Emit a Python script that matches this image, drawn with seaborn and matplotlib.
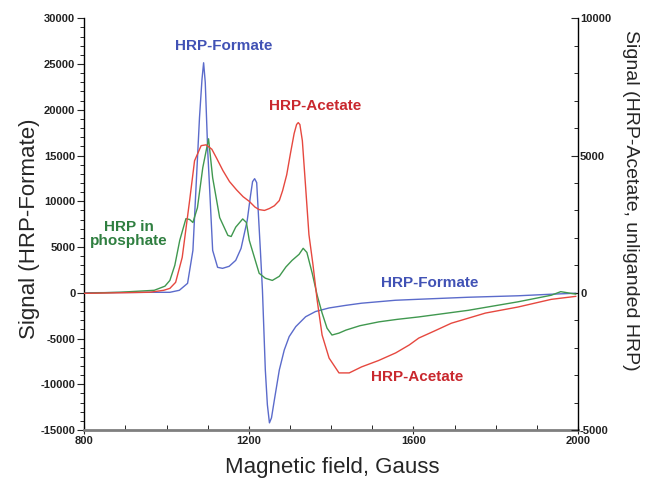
import matplotlib
matplotlib.use("Agg")
import matplotlib.pyplot as plt
from matplotlib.ticker import MultipleLocator
import seaborn as sns

# ---- data ----
field_formate = [800, 960, 1008, 1031, 1051, 1064, 1072, 1080, 1086, 1090, 1094, 1100, 1104, 1112, 1124,
                 1136, 1152, 1168, 1181, 1196, 1204, 1209, 1214, 1219, 1224, 1228, 1233, 1240, 1245, 1250,
                 1255, 1262, 1274, 1286, 1298, 1314, 1338, 1362, 1395, 1435, 1474, 1556, 1613, 1733,
                 1854, 1934, 1995]
signal_formate = [0, 50, 50, 270, 1030, 4630, 11930, 19150, 23300, 25140, 23000, 15500, 11930, 4630, 2780,
                  2670, 2890, 3540, 4850, 7900, 10620, 12150, 12470, 12040, 7900, 4630, 270, -8440, -12250, -14220,
                  -13670, -11710, -8440, -6260, -4790, -3700, -2620, -2050, -1660, -1380, -1140, -820, -710, -490,
                  -330, -160, -50]

field_acetate = [800, 887, 960, 993, 1008, 1022, 1038, 1056, 1068, 1084, 1096, 1110, 1121, 1137, 1153,
                 1170, 1186, 1201, 1215, 1225, 1238, 1250, 1262, 1274, 1282, 1292, 1301, 1310, 1316, 1320,
                 1324, 1330, 1338, 1346, 1356, 1366, 1378, 1395, 1419, 1444, 1474, 1515, 1557, 1590, 1613,
                 1650, 1692, 1775, 1854, 1935, 1995]
signal_acetate = [-20, 0, 20, 90, 160, 380, 1290, 3360, 4810, 5360, 5390, 5230, 4920, 4450, 4050,
                  3750, 3500, 3330, 3120, 3030, 3000, 3070, 3170, 3360, 3720, 4300, 5070, 5800, 6130, 6200,
                  6130, 5540, 3840, 2120, 1000, -270, -1540, -2380, -2920, -2920, -2700, -2470, -2190, -1900, -1650,
                  -1400, -1110, -740, -520, -240, -130]

field_phosphate = [800, 887, 970, 996, 1008, 1020, 1032, 1047, 1056, 1064, 1075, 1088, 1102, 1112, 1129,
                   1149, 1157, 1168, 1185, 1194, 1201, 1225, 1240, 1257, 1274, 1290, 1305, 1322, 1332, 1341,
                   1354, 1366, 1378, 1390, 1402, 1419, 1436, 1470, 1516, 1560, 1613, 1733, 1854, 1935, 1958,
                   1995]
signal_phosphate = [-20, 20, 90, 240, 450, 1000, 1910, 2700, 2670, 2560, 3100, 4560, 5610, 4190, 2740,
                    2090, 2050, 2390, 2690, 2560, 1910, 710, 530, 450, 600, 940, 1180, 1400, 1620, 1470,
                    710, -90, -740, -1290, -1540, -1470, -1360, -1200, -1060, -970, -880, -640, -330, -90, 40,
                    -50]

x_ticks = [800, 1200, 1600, 2000]
left_ticks = [-15000, -10000, -5000, 0, 5000, 10000, 15000, 20000, 25000, 30000]
right_ticks = [-5000, 0, 5000, 10000]

# ---- style ----
sns.set_style("white")
plt.rcParams["font.family"] = ["Liberation Sans", "DejaVu Sans"]
plt.rcParams["axes.unicode_minus"] = False

BLUE, RED, GREEN = "#5b6bcb", "#e6483f", "#40984f"
BLUE_T, RED_T, GREEN_T = "#4152b5", "#c9282e", "#2f7f40"

fig = plt.figure(figsize=(6.45, 4.79), dpi=100)
L, R, B, T = 84.3, 578.0, 430.0, 18.3
ax = fig.add_axes([L / 645, 1 - B / 479, (R - L) / 645, (B - T) / 479])
ax2 = ax.twinx()

sns.lineplot(x=field_formate, y=signal_formate, ax=ax, color=BLUE, linewidth=1.0)
sns.lineplot(x=field_phosphate, y=signal_phosphate, ax=ax2, color=GREEN, linewidth=1.0)
sns.lineplot(x=field_acetate, y=signal_acetate, ax=ax2, color=RED, linewidth=1.0)

ax.set_xlim(800, 2000)
ax.set_ylim(-15000, 30000)
ax2.set_ylim(-5000, 10000)

tick_kw = dict(fontsize=8, fontweight="bold", color="#222222")
ax.set_xticks(x_ticks, labels=[str(v) for v in x_ticks], **tick_kw)
ax.set_yticks(left_ticks, labels=[str(v) for v in left_ticks], **tick_kw)
ax2.set_yticks(right_ticks, labels=[str(v) for v in right_ticks], **tick_kw)
ax.xaxis.set_minor_locator(MultipleLocator(100))
ax.yaxis.set_minor_locator(MultipleLocator(1000))
ax2.yaxis.set_minor_locator(MultipleLocator(1000))

ax.tick_params(axis="y", which="major", direction="out", length=5, width=0.8, pad=1.5, left=True)
ax.tick_params(axis="y", which="minor", direction="out", length=3, width=0.7, left=True)
ax.tick_params(axis="x", which="major", direction="inout", length=6, width=0.8, pad=1.5, bottom=True)
ax.tick_params(axis="x", which="minor", direction="in", length=3.5, width=0.7, bottom=True)
ax2.tick_params(axis="y", which="major", direction="in", length=5, width=0.8, pad=1.5, right=True)
ax2.tick_params(axis="y", which="minor", direction="in", length=3, width=0.7, right=True)

ax.set_xlabel("")
ax.set_ylabel("")
ax2.set_ylabel("")

for a in (ax, ax2):
    a.spines["top"].set_visible(False)
ax.spines["right"].set_visible(False)
ax2.spines["left"].set_visible(False)
ax2.spines["bottom"].set_visible(False)
ax.spines["left"].set_color("black")
ax.spines["left"].set_linewidth(1.0)
ax2.spines["right"].set_color("black")
ax2.spines["right"].set_linewidth(1.0)
ax.spines["bottom"].set_color("#7f7f7f")
ax.spines["bottom"].set_linewidth(2.0)

# axis titles
fig.text(332 / 645, 1 - 467 / 479, "Magnetic field, Gauss", fontsize=16, ha="center", va="center")
fig.text(30 / 645, 1 - 229 / 479, "Signal (HRP-Formate)", fontsize=16, rotation=90, ha="center", va="center")
fig.text(631 / 645, 1 - 200 / 479, "Signal (HRP-Acetate, unliganded HRP)", fontsize=14, rotation=270,
         ha="center", va="center")

# curve labels
lab_kw = dict(fontsize=11, fontweight="bold", ha="center", va="center")
ax.text(1140, 26975, "HRP-Formate", color=BLUE_T, **lab_kw)
ax.text(1362, 20420, "HRP-Acetate", color=RED_T, **lab_kw)
ax.text(908, 6430, "HRP in\nphosphate", color=GREEN_T, linespacing=1.05, **lab_kw)
ax.text(1639, 1070, "HRP-Formate", color=BLUE_T, **lab_kw)
ax.text(1610, -9200, "HRP-Acetate", color=RED_T, **lab_kw)

fig.savefig("out.png", dpi=100)
